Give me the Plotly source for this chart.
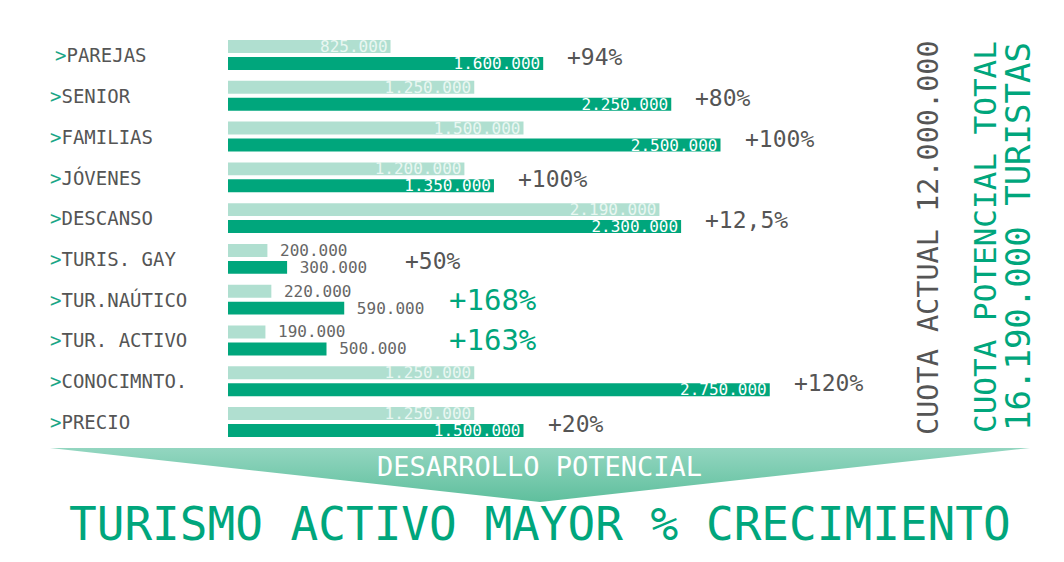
import plotly.graph_objects as go

# ---- data ----
categories = ["PAREJAS", "SENIOR", "FAMILIAS", "JÓVENES", "DESCANSO",
              "TURIS. GAY", "TUR.NAÚTICO", "TUR. ACTIVO", "CONOCIMNTO.", "PRECIO"]
actual = [825000, 1250000, 1500000, 1200000, 2190000, 200000, 220000, 190000, 1250000, 1250000]
potencial = [1600000, 2250000, 2500000, 1350000, 2300000, 300000, 590000, 500000, 2750000, 1500000]
growth = ["+94%", "+80%", "+100%", "+100%", "+12,5%", "+50%", "+168%", "+163%", "+120%", "+20%"]
highlight = ["TUR.NAÚTICO", "TUR. ACTIVO"]
outside_rows = ["TURIS. GAY", "TUR.NAÚTICO", "TUR. ACTIVO"]
cuota_actual = "CUOTA ACTUAL 12.000.000"
cuota_pot = "CUOTA POTENCIAL TOTAL"
cuota_tot = "16.190.000 TURISTAS"
arrow_label = "DESARROLLO POTENCIAL"
headline = "TURISMO ACTIVO MAYOR % CRECIMIENTO"

# ---- styles ----
PAGE_W, PAGE_H = 1064, 562
OFF = 8  # default body margin of the html page
W, H = PAGE_W - 2 * OFF, PAGE_H - 2 * OFF
FONT = "DejaVu Sans Mono"
LIGHT = "#b0dfd0"
DARK = "#00a67c"
GREEN_TXT = "#00a67c"
GRAY = "#555555"
ARROW_GT = "#1aa687"
NBSP = "\u00a0"


def fmt(v):
    return f"{v:,}".replace(",", ".")


def px_x(p):
    return (p - OFF) / W


def px_y(p):
    return 1 - (p - OFF) / H


def labels(values):
    return [(NBSP + fmt(v)) if c in outside_rows else fmt(v) for c, v in zip(categories, values)]


fig = go.Figure()

pos_text = ["outside" if c in outside_rows else "inside" for c in categories]
fig.add_trace(go.Bar(
    y=categories, x=actual, orientation="h", marker=dict(color=LIGHT, line=dict(width=0)),
    text=labels(actual), textposition=pos_text, insidetextanchor="end",
    textangle=0, constraintext="none", cliponaxis=False,
    insidetextfont=dict(family=FONT, size=16, color="#e9f7f2"),
    outsidetextfont=dict(family=FONT, size=16, color="#666666"),
    hoverinfo="skip", showlegend=False,
))
fig.add_trace(go.Bar(
    y=categories, x=potencial, orientation="h", marker=dict(color=DARK, line=dict(width=0)),
    text=labels(potencial), textposition=pos_text, insidetextanchor="end",
    textangle=0, constraintext="none", cliponaxis=False,
    insidetextfont=dict(family=FONT, size=16, color="#ffffff"),
    outsidetextfont=dict(family=FONT, size=16, color="#666666"),
    hoverinfo="skip", showlegend=False,
))

# decorative arrow (gradient triangle) on a full-page pixel axis
fig.add_trace(go.Scatter(
    x=[50, 1030, 540, 50], y=[448, 448, 502, 448], xaxis="x2", yaxis="y2",
    mode="lines", line=dict(width=0), fill="toself",
    fillgradient=dict(type="vertical", colorscale=[[0, "#93d6c0"], [1, "#5fbf9d"]],
                      start=448, stop=502),
    hoverinfo="skip", showlegend=False,
))

annotations = []
# category labels
for c in categories:
    annotations.append(dict(
        x=px_x(53 if c == "PAREJAS" else 48), xref="paper", y=c, yref="y",
        xanchor="left", yanchor="middle",
        text=f"<span style='color:{ARROW_GT}'>&gt;</span>{c}", showarrow=False,
        font=dict(family=FONT, size=19, color=GRAY),
    ))

# growth labels
outside_shift = {"TURIS. GAY": 116, "TUR.NAÚTICO": 103, "TUR. ACTIVO": 120}
for c, v, g in zip(categories, potencial, growth):
    big = c in highlight
    annotations.append(dict(
        x=v, xref="x", y=c, yref="y", xanchor="left", yanchor="middle",
        xshift=outside_shift.get(c, 22), yshift=-2 if not big else 0,
        text=g, showarrow=False,
        font=dict(family=FONT, size=29 if big else 23, color=GREEN_TXT if big else GRAY),
    ))

# vertical totals, arrow label, headline
common = dict(xref="paper", yref="paper", xanchor="center", yanchor="middle", showarrow=False)
annotations += [
    dict(x=px_x(928), y=px_y(238), text=cuota_actual, textangle=-90,
         font=dict(family=FONT, size=28.5, color=GRAY), **common),
    dict(x=px_x(985), y=px_y(237), text=cuota_pot, textangle=-90,
         font=dict(family=FONT, size=31, color=GREEN_TXT), **common),
    dict(x=px_x(1018), y=px_y(237), text=cuota_tot, textangle=-90,
         font=dict(family=FONT, size=34, color=GREEN_TXT), **common),
    dict(x=px_x(539), y=px_y(466), text=arrow_label,
         font=dict(family=FONT, size=27, color="#ffffff"), **common),
    dict(x=px_x(540), y=px_y(524), text=headline,
         font=dict(family=FONT, size=46, color=GREEN_TXT), **common),
]

fig.update_layout(
    width=W, height=H, margin=dict(l=0, r=0, t=0, b=0),
    paper_bgcolor="white", plot_bgcolor="rgba(0,0,0,0)",
    barmode="group", bargap=0.17, bargroupgap=0.235,
    xaxis=dict(domain=[px_x(228), px_x(1016)], range=[0, 4000000], visible=False, fixedrange=True),
    yaxis=dict(domain=[px_y(442.4), px_y(34.6)], type="category", categoryorder="array",
               categoryarray=categories, autorange="reversed", visible=False, fixedrange=True),
    xaxis2=dict(domain=[0, 1], range=[OFF, OFF + W], visible=False, anchor="y2", fixedrange=True),
    yaxis2=dict(domain=[0, 1], range=[OFF + H, OFF], visible=False, anchor="x2", fixedrange=True),
    annotations=annotations,
    showlegend=False,
)

fig.write_html("out.html")
